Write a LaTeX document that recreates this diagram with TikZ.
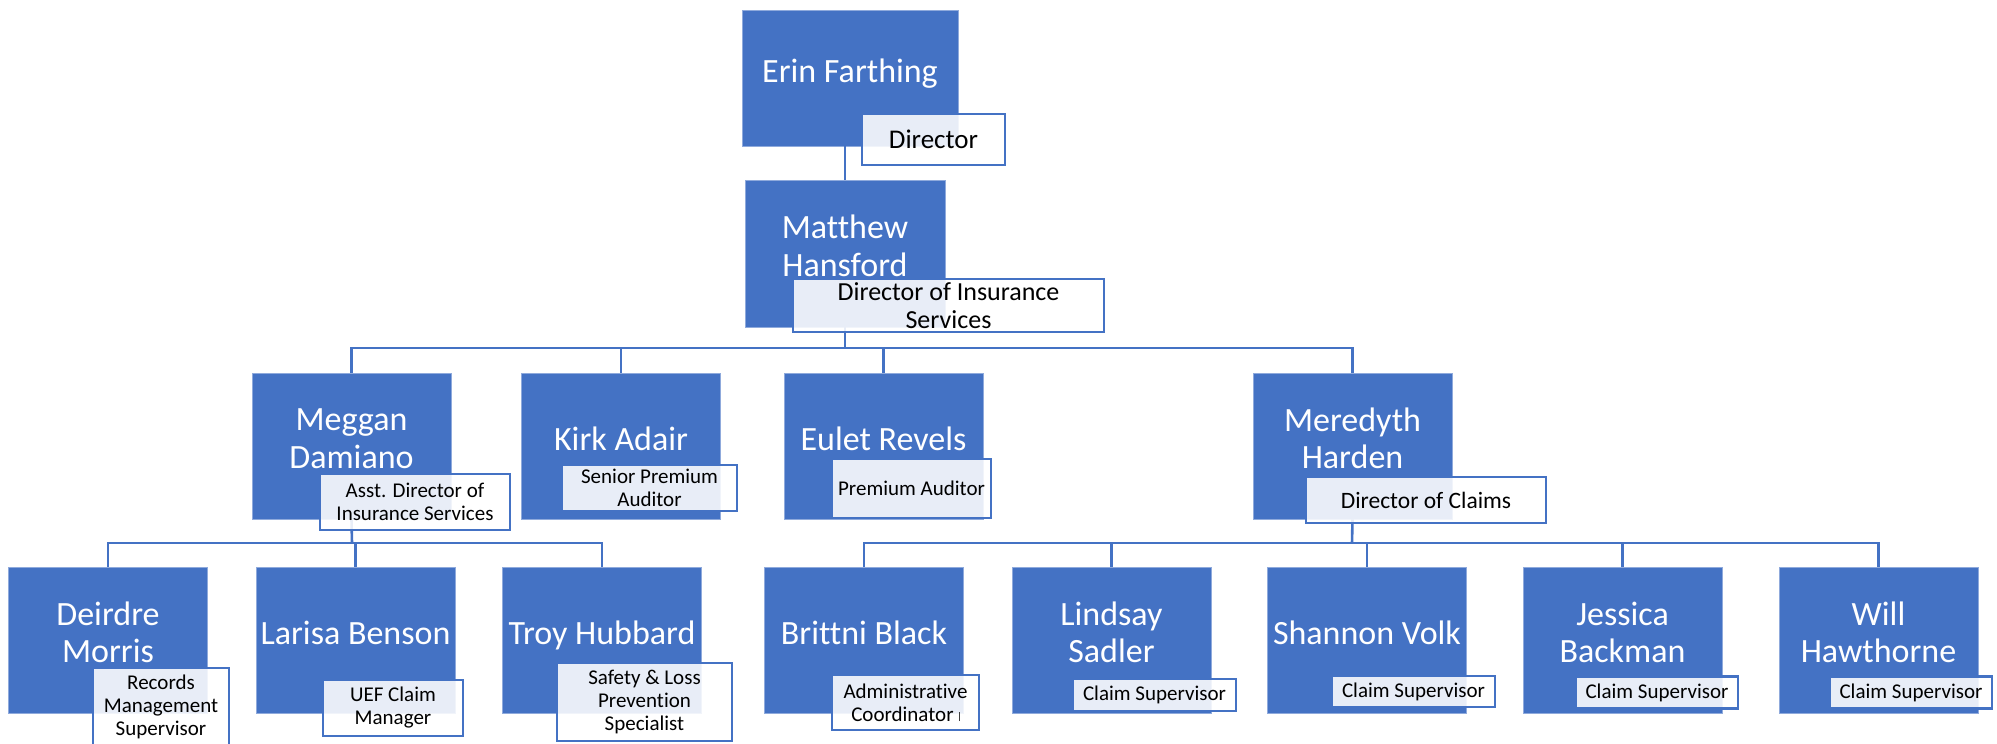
\documentclass[tikz,border=0pt]{standalone}
\usepackage{fontspec}
\setmainfont{Carlito}[Ligatures=NoCommon]
\definecolor{accent}{HTML}{4472C4}
\definecolor{edgeline}{HTML}{8FAADC}
\tikzset{
  person/.style={rectangle, fill=accent, draw=edgeline, line width=0.8pt,
    inner sep=0pt, minimum width=199pt, minimum height=146pt},
  pname/.style={text=white, align=center, inner sep=0pt,
    font=\fontsize{34}{37.5}\selectfont},
  role/.style={rectangle, draw=accent, line width=2.5pt, fill=white,
    fill opacity=0.88, text opacity=1, align=center, inner sep=0pt,
    font=\fontsize{21}{23}\selectfont},
  link/.style={draw=accent, line width=2.6pt},
}
\begin{document}
\begin{tikzpicture}[x=1pt,y=-1pt]
\useasboundingbox (0,0) rectangle (1997,744);

% ---- people boxes ----
\node[person, minimum width=216pt, minimum height=136pt] (erin) at (850,78) {};
\node[person, minimum width=200pt, minimum height=147pt] (matthew) at (845,253.5) {};

\node[person] (meggan)   at (351.5,446) {};
\node[person] (kirk)     at (621,446) {};
\node[person] (eulet)    at (883.5,446) {};
\node[person] (meredyth) at (1352.5,446) {};

\node[person] (deirdre)  at (108,640) {};
\node[person] (larisa)   at (355.5,640) {};
\node[person] (troy)     at (602,640) {};
\node[person] (brittni)  at (864,640) {};
\node[person] (lindsay)  at (1111.5,640) {};
\node[person] (shannon)  at (1367,640) {};
\node[person] (jessica)  at (1622.5,640) {};
\node[person] (will)     at (1878.5,640) {};

% ---- reporting lines ----
\coordinate (busA) at (845,348);
\coordinate (busB) at (352,543);
\coordinate (busC) at (1352,543);

\draw[link] (erin.south -| matthew.north) -- (matthew.north);
\draw[link] (matthew.south) -- (busA);
\draw[link] (meggan.north) |- (busA) -| (meredyth.north);
\draw[link] (kirk.north) -- (kirk.north |- busA);
\draw[link] (eulet.north) -- (eulet.north |- busA);

\draw[link] (meggan.south) -- (busB);
\draw[link] (deirdre.north) |- (busB) -| (troy.north);
\draw[link] (larisa.north) -- (larisa.north |- busB);

\draw[link] (meredyth.south) -- (busC);
\draw[link] (brittni.north) |- (busC) -| (will.north);
\draw[link] (lindsay.north) -- (lindsay.north |- busC);
\draw[link] (shannon.north) -- (shannon.north |- busC);
\draw[link] (jessica.north) -- (jessica.north |- busC);

% ---- names ----
\node[pname, anchor=base] (erin-n) at (850,82) {Erin Farthing};
\node[pname] (matthew-n) at (845,246) {Matthew\\Hansford};

\node[pname] (meggan-n) at (351.5,438.5) {Meggan\\Damiano};
\node[pname, anchor=base] (kirk-n) at (621,450) {Kirk Adair};
\node[pname, anchor=base] (eulet-n) at (883.5,450) {Eulet Revels};
\node[pname] (meredyth-n) at (1352.5,438.5) {Meredyth\\Harden};

\node[pname] (deirdre-n) at (108,632.5) {Deirdre\\Morris};
\node[pname, anchor=base] (larisa-n) at (355.5,644) {Larisa Benson};
\node[pname, anchor=base] (troy-n) at (602,644) {Troy Hubbard};
\node[pname, anchor=base] (brittni-n) at (864,644) {Brittni Black};
\node[pname] (lindsay-n) at (1111.5,632.5) {Lindsay\\Sadler};
\node[pname, anchor=base] (shannon-n) at (1367,644) {Shannon Volk};
\node[pname] (jessica-n) at (1622.5,632.5) {Jessica\\Backman};
\node[pname] (will-n) at (1878.5,632.5) {Will\\Hawthorne};

% ---- job titles ----
\node[role, minimum width=143pt, minimum height=51pt, font=\fontsize{27}{30}\selectfont]
  (erin-r) at (933.5,139.5) {Director};
\node[role, minimum width=311pt, minimum height=53pt, font=\fontsize{26}{28}\selectfont]
  (matthew-r) at (948.5,305.5) {Director of Insurance\\Services};

\node[role, minimum width=190pt, minimum height=56pt] (meggan-r) at (415,502)
  {Asst. Director of\\Insurance Services};
\node[role, minimum width=175pt, minimum height=46pt] (kirk-r) at (649.5,488)
  {Senior Premium\\Auditor};
\node[role, minimum width=159pt, minimum height=59pt] (eulet-r) at (911.5,488.5)
  {Premium Auditor};
\node[role, minimum width=240pt, minimum height=46pt, font=\fontsize{23.5}{26}\selectfont]
  (meredyth-r) at (1426,500) {Director of Claims};

\node[role, minimum width=136pt, minimum height=78pt] (deirdre-r) at (161,707)
  {Records\\Management\\Supervisor};
\node[role, minimum width=140pt, minimum height=56pt] (larisa-r) at (393,708)
  {UEF Claim\\Manager};
\node[role, minimum width=175pt, minimum height=78pt] (troy-r) at (644.5,702)
  {Safety \& Loss\\Prevention\\Specialist};
\node[role, minimum width=147pt, minimum height=55pt] (brittni-r) at (905.5,702.5)
  {Administrative\\Coordinator\hspace{0.25em}{\color{black!75}\rule{0.9pt}{0.42em}}};
\node[role, minimum width=163pt, minimum height=32pt] (lindsay-r) at (1154.5,695)
  {Claim Supervisor};
\node[role, minimum width=163pt, minimum height=31pt] (shannon-r) at (1413.5,691.5)
  {Claim Supervisor};
\node[role, minimum width=162pt, minimum height=32pt] (jessica-r) at (1657,692.5)
  {Claim Supervisor};
\node[role, minimum width=162pt, minimum height=32pt] (will-r) at (1911,692.5)
  {Claim Supervisor};
\end{tikzpicture}
\end{document}
